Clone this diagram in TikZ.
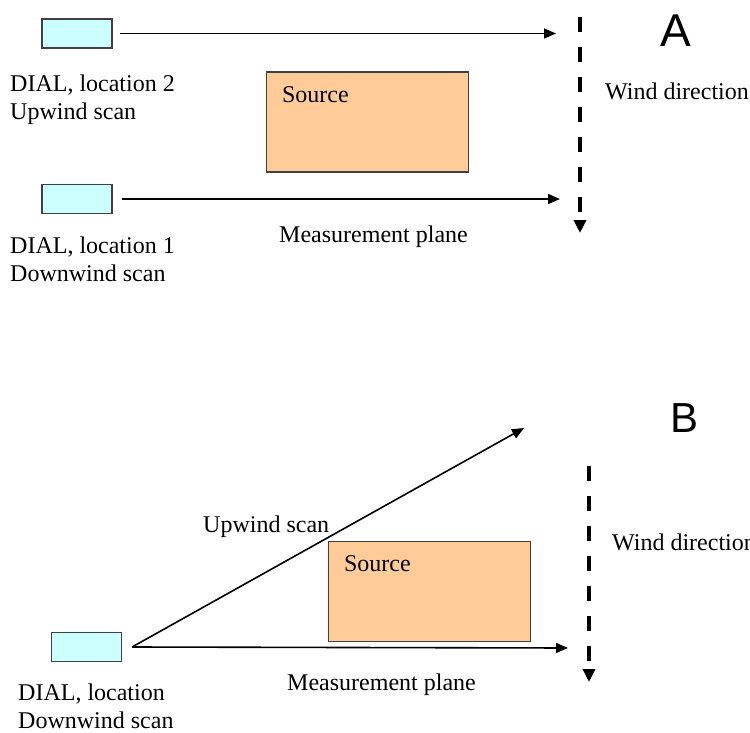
\documentclass[tikz,border=0pt]{standalone}
\usepackage{fontspec}
\setmainfont{Liberation Serif}
\newfontfamily\panelfont{Liberation Sans}
\usetikzlibrary{positioning,arrows.meta}
\definecolor{dialcyan}{HTML}{CCFFFF}
\definecolor{sourcepeach}{HTML}{FFCC99}
\tikzset{
	x=1pt, y=-1pt,% one unit is one pixel of the sketch, y runs downwards
	dial box/.style={rectangle, draw=black!75, fill=dialcyan, line width=1.2pt, minimum width=70pt, minimum height=29pt, inner sep=0pt},
	source box/.style={rectangle, draw=black!75, fill=sourcepeach, line width=1.2pt, minimum width=202pt, minimum height=100pt, inner sep=0pt},
	my label/.style={inner sep=0pt, align=left, font=\fontsize{24}{28.5}\selectfont},
	panel/.style={inner sep=0pt, font=\panelfont\fontsize{46}{46}\selectfont},
	scan edge/.style={-{Triangle[length=12pt,width=10pt]}, line width=1.6pt}, % laser beam of the DIAL
	wind edge/.style={-{Triangle[length=13pt,width=12pt]}, line width=4pt, dash pattern=on 15pt off 15pt}
}

\begin{document}
\begin{tikzpicture}
\useasboundingbox (0,0) rectangle (750,733);
% A: two DIAL positions
\node[dial box] (d2) at (77,33.5) {};
\node[dial box] (d1) at (77,199) {};
\node[source box] (srcA) at (367.5,122) {};
\node[my label, anchor=base west] (srcAtxt) at ([xshift=16pt,yshift=-31pt]srcA.north west) {Source};
\coordinate (endA2) at (556,33.5);
\coordinate (endA1) at (560,199);
\coordinate (windAtop) at (580,17);
\coordinate (windAbot) at (580,233);
\draw[scan edge, shorten <=7pt] (d2) -- (endA2);
\draw[scan edge, shorten <=9pt] (d1) -- (endA1);
\draw[wind edge] (windAtop) -- (windAbot);
\node[my label, anchor=north west] (lblA2) at (10,74.6) {DIAL, location 2\\Upwind scan};
\node[my label, anchor=north west] (lblA1) at (10,236.6) {DIAL, location 1\\Downwind scan};
\node[my label, anchor=base west] (planeA) at (279,242) {Measurement plane};
\node[my label, anchor=base west] (windA) at (605,100) {Wind direction};
\node[panel, anchor=base west] (A) at (660,47) {A};
% B: one DIAL position
\node[dial box] (dB) at (86.5,647) {};
\node[source box] (srcB) at (429.5,591.5) {};
\node[my label, anchor=base west] (srcBtxt) at ([xshift=16pt,yshift=-31pt]srcB.north west) {Source};
\coordinate[right=10pt of dB] (laser);
\coordinate (upend) at (524,428);
\coordinate (measend) at (568,648);
\coordinate (windBtop) at (589,466);
\coordinate (windBbot) at (589,682);
\draw[scan edge] (laser) -- (upend);
\draw[scan edge] (laser) -- (measend);
\draw[wind edge] (windBtop) -- (windBbot);
\node[my label, anchor=base west] (upB) at (203,532) {Upwind scan};
\node[my label, anchor=base west] (planeB) at (287,690) {Measurement plane};
\node[my label, anchor=north west] (lblB) at (18,683.6) {DIAL, location\\Downwind scan};
\node[my label, anchor=base west] (windB) at (612,550) {Wind direction};
\node[panel, anchor=base west, font=\panelfont\fontsize{42}{42}\selectfont] (B) at (670,432) {B};
\end{tikzpicture}
\end{document}
